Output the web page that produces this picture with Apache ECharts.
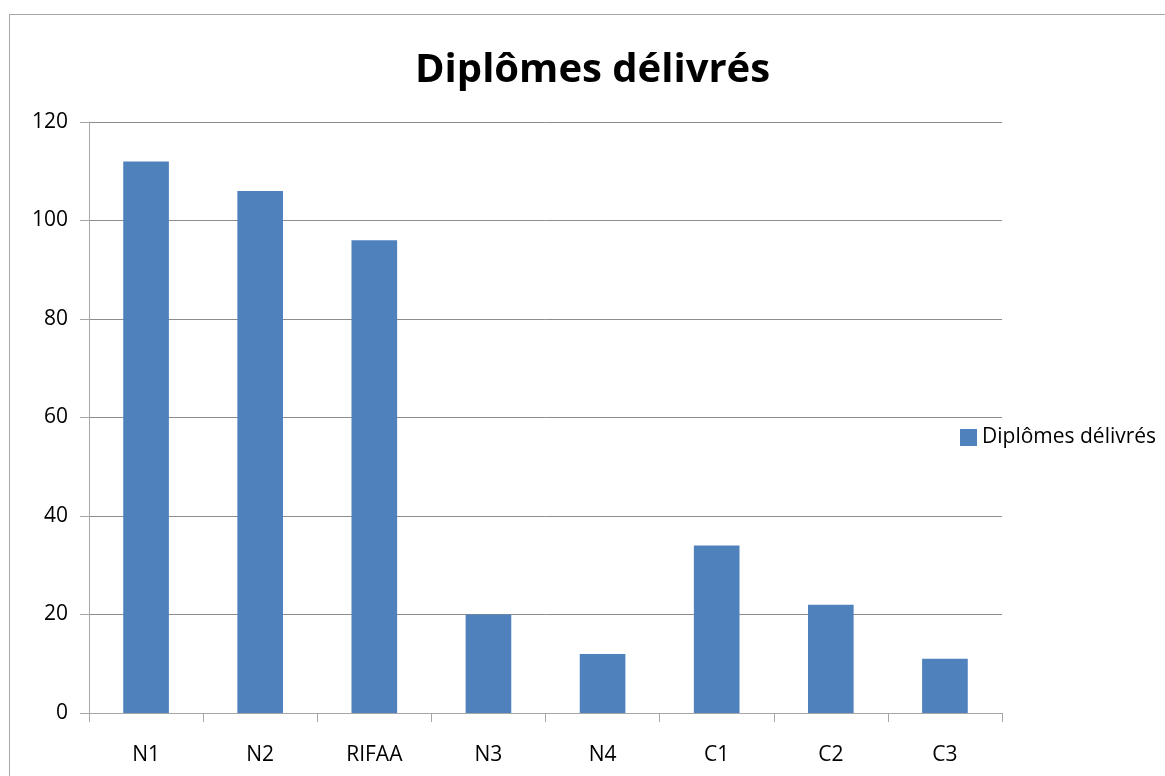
<!DOCTYPE html>
<html><head><meta charset="utf-8">
<script src="https://cdn.jsdelivr.net/npm/echarts@6/dist/echarts.min.js"></script>
<style>
html,body{margin:0;padding:0;background:#fff;overflow:hidden;}
#frame{position:absolute;left:9px;top:14px;width:1200px;height:800px;border:1px solid #a6a6a6;box-sizing:border-box;}
#c{position:absolute;left:0;top:0;width:1165px;height:776px;}
</style></head><body>
<div id="frame"></div>
<div id="c"></div>
<script>
const categories = ["N1","N2","RIFAA","N3","N4","C1","C2","C3"];
const values = [112,106,96,20,12,34,22,11];
const seriesName = "Diplômes délivrés";
const titleText = "Diplômes délivrés";
const chart = echarts.init(document.getElementById('c'), null, {renderer:'canvas'});
const font = "'Open Sans', Lato, sans-serif";
chart.setOption({
  animation:false,
  backgroundColor:'transparent',
  title:{text:titleText,left:410,top:46,
    textStyle:{fontFamily:font,fontWeight:'bold',fontSize:40,color:'#000'}},
  legend:{left:955,top:422,itemWidth:17,itemHeight:17,itemGap:8,icon:'rect',
    textStyle:{fontFamily:font,fontSize:21,color:'#000'},data:[seriesName]},
  grid:{left:89,right:163,top:122,bottom:63,containLabel:false},
  xAxis:{type:'category',data:categories,
    axisLine:{lineStyle:{color:'#a6a6a6',width:1}},
    axisTick:{show:true,length:9,lineStyle:{color:'#a6a6a6'}},
    axisLabel:{fontFamily:font,fontSize:21,color:'#000',margin:32}},
  yAxis:{type:'value',min:0,max:120,interval:20,
    axisLine:{show:true,lineStyle:{color:'#a6a6a6',width:1}},
    axisTick:{show:true,length:9,lineStyle:{color:'#a6a6a6'}},
    splitLine:{lineStyle:{color:'#8c8c8c',width:1}},
    axisLabel:{fontFamily:font,fontSize:21,color:'#000',margin:21}},
  series:[{name:seriesName,type:'bar',data:values,barWidth:'40%',
    itemStyle:{color:'#4F81BD'}}]
});
</script>
</body></html>
